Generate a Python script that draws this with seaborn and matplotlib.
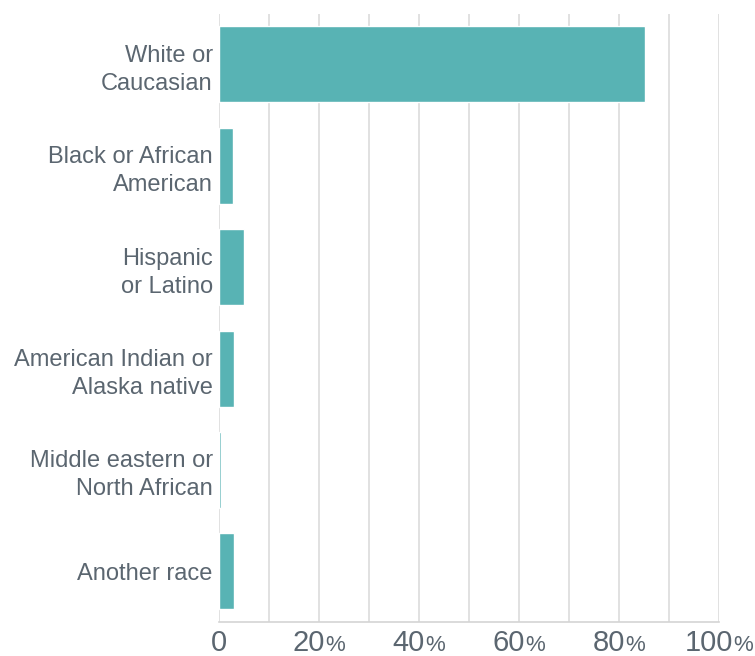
import pandas as pd
import seaborn as sns
import matplotlib.pyplot as plt
from matplotlib.offsetbox import TextArea, HPacker, AnnotationBbox

# share of respondents by race (percent)
races = ['White or\nCaucasian', 'Black or African\nAmerican', 'Hispanic\nor Latino',
         'American Indian or\nAlaska native', 'Middle eastern or\nNorth African', 'Another race']
shares = [85.2, 2.8, 5.0, 3.0, 0.4, 3.0]
tick_values = [0, 20, 40, 60, 80, 100]

df = pd.DataFrame({'race': races, 'share': shares})

sns.set_style('white')
plt.rcParams['font.family'] = ['Liberation Sans', 'DejaVu Sans']
text_color = '#5b6670'

fig = plt.figure(figsize=(7.55, 6.56), dpi=100)
ax = fig.add_axes([0.290, 0.052, 0.662, 0.927])

sns.barplot(data=df, x='share', y='race', orient='h', color='#58b3b4',
            saturation=1, width=0.75, ax=ax)

ax.set_xlim(0, 100)
ax.set_ylim(5.5, -0.5)
ax.set_xticks(range(0, 101, 10))
ax.grid(axis='x', color='#dcdcdc', linewidth=1.2)
ax.set_axisbelow(True)
for s in ['top', 'right', 'left']:
    ax.spines[s].set_visible(False)
ax.spines['bottom'].set_color('#d4d4d4')
ax.spines['bottom'].set_linewidth(1.2)
ax.set_xlabel('')
ax.set_ylabel('')
ax.tick_params(axis='both', length=0)
ax.tick_params(axis='y', pad=4.5, labelsize=17, labelcolor=text_color)
for lbl in ax.get_yticklabels():
    lbl.set_linespacing(1.35)
ax.set_xticklabels([])

# x tick labels: big number with a smaller percent sign
for v in tick_values:
    parts = [TextArea(str(v), textprops=dict(size=21, color=text_color))]
    if v > 0:
        parts.append(TextArea('%', textprops=dict(size=16, color=text_color)))
    box = HPacker(children=parts, align='baseline', pad=0, sep=0)
    ab = AnnotationBbox(box, (v, 0), xycoords=('data', 'axes fraction'),
                        xybox=(0, -5), boxcoords='offset points',
                        box_alignment=(0.5, 1), frameon=False,
                        annotation_clip=False)
    ax.add_artist(ab)

fig.savefig('out.png', dpi=100)
